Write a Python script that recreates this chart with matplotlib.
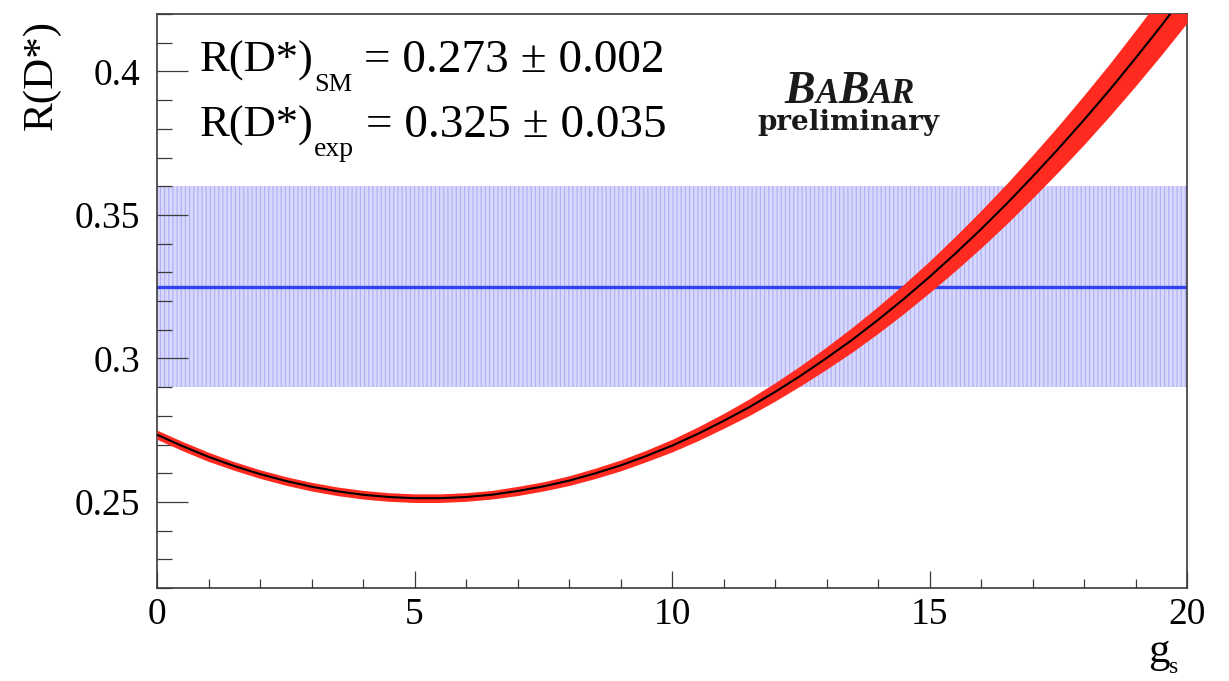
import numpy as np
import matplotlib
matplotlib.use("Agg")
import matplotlib.pyplot as plt
from matplotlib.ticker import MultipleLocator, FixedFormatter, FixedLocator

plt.rcParams['font.family'] = ['Liberation Serif', 'DejaVu Serif']
plt.rcParams['hatch.linewidth'] = 0.9

# ---- data -------------------------------------------------------------
g_s = [0.0, 0.5, 1.0, 1.5, 2.0, 2.5, 3.0, 3.5, 4.0, 4.5, 5.0, 5.5, 6.0, 6.5,
       7.0, 7.5, 8.0, 8.5, 9.0, 9.5, 10.0, 10.5, 11.0, 11.5, 12.0, 12.5,
       13.0, 13.5, 14.0, 14.5, 15.0, 15.5, 16.0, 16.5, 17.0, 17.5, 18.0,
       18.5, 19.0, 19.5, 20.0]
r_dstar = [0.2734, 0.2694, 0.2657, 0.2625, 0.2597, 0.2573, 0.2553, 0.2537,
           0.2525, 0.2517, 0.2513, 0.2513, 0.2517, 0.2525, 0.2538, 0.2554,
           0.2574, 0.2599, 0.2627, 0.2660, 0.2696, 0.2737, 0.2782, 0.2830,
           0.2883, 0.2940, 0.3001, 0.3065, 0.3134, 0.3207, 0.3284, 0.3365,
           0.3450, 0.3539, 0.3633, 0.3730, 0.3831, 0.3936, 0.4046, 0.4159,
           0.4277]
r_dstar_err = [0.0016, 0.0016, 0.0016, 0.0015, 0.0015, 0.0015, 0.0015, 0.0015,
               0.0015, 0.0015, 0.0015, 0.0015, 0.0015, 0.0015, 0.0016, 0.0016,
               0.0017, 0.0018, 0.0019, 0.0020, 0.0022, 0.0024, 0.0026, 0.0029,
               0.0032, 0.0035, 0.0039, 0.0043, 0.0047, 0.0051, 0.0055, 0.0060,
               0.0065, 0.0070, 0.0075, 0.0080, 0.0086, 0.0091, 0.0097, 0.0102,
               0.0108]
r_exp = 0.325
r_exp_err = 0.035
r_sm = 0.273
r_sm_err = 0.002

y_ticks = [0.25, 0.30, 0.35, 0.40]
y_tick_labels = ["0.25", "0.3", "0.35", "0.4"]
x_ticks = [0, 5, 10, 15, 20]
x_tick_labels = ["0", "5", "10", "15", "20"]

# ---- figure -----------------------------------------------------------
W, H, DPI = 1229, 681, 100
fig = plt.figure(figsize=(W / DPI, H / DPI), dpi=DPI, facecolor='white')
ax = fig.add_axes([157 / W, 1 - 588 / H, (1187 - 157) / W, (588 - 14) / H])
renderer = fig.canvas.get_renderer()

g = np.array(g_s)
r = np.array(r_dstar)
dr = np.array(r_dstar_err)

# experimental measurement band and central value
ax.fill_between([0, 20], r_exp - r_exp_err, r_exp + r_exp_err,
                facecolor='#d8d8fc', edgecolor='#b2b2f5', hatch='||||',
                linewidth=0, zorder=1)
ax.axhline(r_exp, color='#3443f0', lw=2.4, zorder=2)

# prediction vs g_s with its uncertainty band
ax.fill_between(g, r - dr, r + dr, color='#ff2a20', linewidth=0, zorder=3)
ax.plot(g, r, color='black', lw=1.5, zorder=4, solid_joinstyle='round')

ax.set_xlim(0, 20)
ax.set_ylim(0.22, 0.42)

ax.xaxis.set_major_locator(FixedLocator(x_ticks))
ax.xaxis.set_major_formatter(FixedFormatter(x_tick_labels))
ax.xaxis.set_minor_locator(MultipleLocator(1))
ax.yaxis.set_major_locator(FixedLocator(y_ticks))
ax.yaxis.set_major_formatter(FixedFormatter(y_tick_labels))
ax.yaxis.set_minor_locator(MultipleLocator(0.01))

frame_col = '#3a3a3a'
for sp in ax.spines.values():
    sp.set_color(frame_col)
    sp.set_linewidth(1.2)

ax.tick_params(axis='x', which='both', direction='in', top=False, bottom=True,
               color=frame_col, width=0.9, labelsize=27, pad=7)
ax.tick_params(axis='x', which='major', length=12.5)
ax.tick_params(axis='x', which='minor', length=6.2)
ax.tick_params(axis='y', which='both', direction='in', left=True, right=False,
               color=frame_col, width=0.9, labelsize=27, pad=12)
ax.tick_params(axis='y', which='major', length=22)
ax.tick_params(axis='y', which='minor', length=11)


def text_run(xa, ya, pieces, align='left', **kw):
    """Draw consecutive text pieces (text, size, dy_pt) on one baseline."""
    widths = []
    for s, size, _ in pieces:
        t = fig.text(0, 0, s, fontsize=size, **kw)
        widths.append(t.get_window_extent(renderer).width)
        t.remove()
    cum = -sum(widths) / 2 if align == 'center' else 0.0
    for (s, size, dy), w in zip(pieces, widths):
        ax.annotate(s, xy=(xa, ya), xycoords='axes fraction',
                    xytext=(cum * 72 / DPI, dy), textcoords='offset points',
                    ha='left', va='baseline', fontsize=size, **kw)
        cum += w


# axis titles
ax.text(-0.1117, 0.9895, "R(D*)", rotation=90, ha='center', va='top',
        fontsize=31, transform=ax.transAxes)
text_run(0.962, -0.129, [("g", 31, 0), ("s", 17, -8)])

# values
text_run(0.0417, 0.899, [("R(D*)", 32, 0), ("SM", 19, -14),
                         (" = %.3f ± %.3f" % (r_sm, r_sm_err), 34, 0)])
text_run(0.0417, 0.786, [("R(D*)", 32, 0), ("exp", 20, -14),
                         (" = %.3f ± %.3f" % (r_exp, r_exp_err), 34, 0)])

# experiment logo with small capitals
logo_kw = dict(style='italic', fontweight='bold', color='#1a1a1a')
text_run(0.673, 0.845, [("B", 33, 0), ("A", 25, 0), ("B", 33, 0),
                        ("AR", 25, 0)], align='center', **logo_kw)

ax.text(0.671, 0.798, "preliminary", ha='center', va='baseline',
        fontsize=20, fontweight='bold', family='DejaVu Serif',
        color='#1a1a1a', transform=ax.transAxes)

fig.savefig("out.png", dpi=DPI, facecolor='white')
